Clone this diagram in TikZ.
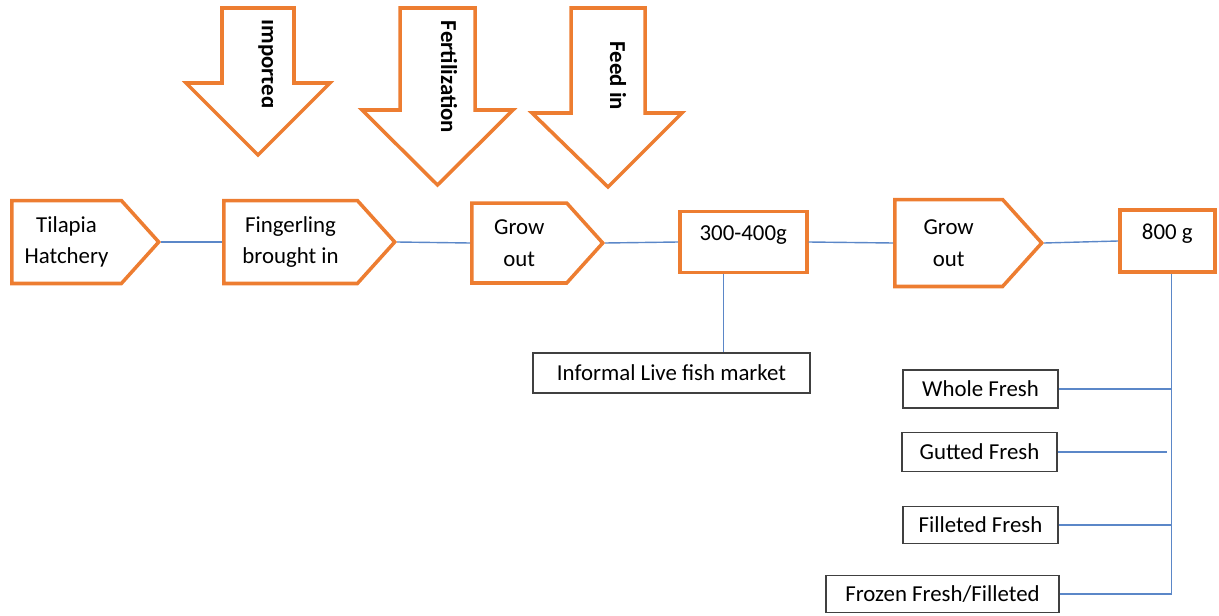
\documentclass[tikz,border=0pt]{standalone}
\usepackage{fontspec}
\setmainfont{Carlito}
\usetikzlibrary{shapes.symbols}
\definecolor{boxorange}{RGB}{237,125,49}
\definecolor{lineblue}{RGB}{91,135,200}
\begin{document}
\begin{tikzpicture}[x=0.02cm,y=-0.02cm,
    font=\fontsize{13}{18}\selectfont,
    stage/.style={signal, signal to=east, signal pointer angle=96, draw=boxorange,
      line width=2pt, align=center, inner sep=0pt, anchor=west},
    weight/.style={rectangle, draw=boxorange, line width=2pt, inner sep=0pt,
      text height=8pt, text depth=10pt, anchor=west},
    outlet/.style={rectangle, draw=black!75, line width=1.1pt, inner sep=0pt},
    inflow/.style={draw=boxorange, line width=2pt, fill=white, line join=miter},
    inlabel/.style={rotate=-90, font=\fontsize{13}{18}\selectfont\bfseries},
    link/.style={draw=lineblue, line width=0.8pt}]
                \useasboundingbox (0,0) rectangle (1219,615);
                % inputs from above
                \foreach \l/\r/\hl/\hr/\hy/\ty in {222/294/186/330/83/155, 400/475/362/513/110/185, 571/645/532/682/113/187}{
                    \draw[inflow] (\l,8) -- (\r,8) -- (\r,\hy) -- (\hr,\hy) -- ({(\l+\r)/2},\ty) -- (\hl,\hy) -- (\l,\hy) -- cycle;
                }
                \begin{scope}
                    \clip (240,10) rectangle (272,150);
                    \node[inlabel] (imported) at (268,64) {Imported};
                \end{scope}
                \node[inlabel] (fertilization) at (449,77) {Fertilization};
                \node[inlabel] (feedin) at (618,76) {Feed in};
                % main chain
                \node[stage, minimum width=2.94cm, minimum height=1.66cm] (hatchery) at (10,242) {Tilapia\\Hatchery};
                \node[stage, minimum width=3.42cm, minimum height=1.66cm] (fingerling) at (222,242) {Fingerling\\brought in};
                \node[stage, minimum width=2.62cm, minimum height=1.6cm] (growout) at (470,243) {Grow\\out};
                \node[weight, minimum width=2.54cm, minimum height=1.22cm] (mass400) at (678,242) {300-400g};
                \node[stage, minimum width=2.94cm, minimum height=1.74cm] (growoutb) at (893,243) {Grow\\out};
                \node[weight, minimum width=1.9cm, minimum height=1.24cm] (mass800) at (1118,241) {800 g};
                \draw[link] (hatchery.east) -- (fingerling.west);
                \draw[link] (fingerling.east) -- (growout.west);
                \draw[link] (growout.east) -- (mass400.west);
                \draw[link] (mass400.east) -- (growoutb.west);
                \draw[link] (growoutb.east) -- (mass800.west);
                % outlets
                \node[outlet, minimum width=5.54cm, minimum height=0.8cm] (market) at (671.5,373) {Informal Live fish market};
                \draw[link] ([xshift=-0.39cm]mass400.south) -- ([xshift=-0.39cm]mass400.south |- market.north);
                \node[outlet, minimum width=3.1cm, minimum height=0.76cm] (whole) at (980.5,389) {Whole Fresh};
                \node[outlet, minimum width=3.1cm, minimum height=0.78cm] (gutted) at (979.5,452) {Gutted Fresh};
                \node[outlet, minimum width=3.1cm, minimum height=0.74cm] (filleted) at (980.5,525) {Filleted Fresh};
                \node[outlet, minimum width=4.66cm, minimum height=0.74cm] (frozen) at (942.5,594) {Frozen Fresh/Filleted};
                \coordinate (trunk) at ([xshift=0.09cm]mass800.south);
                \draw[link] (trunk) -- (trunk |- frozen.east);
                \foreach \p in {whole,filleted,frozen}{
                    \draw[link] (\p.east) -- (\p.east -| trunk);
                }
                \draw[link, shorten >=2.5pt] (gutted.east) -- (gutted.east -| trunk);
            \end{tikzpicture}
\end{document}
